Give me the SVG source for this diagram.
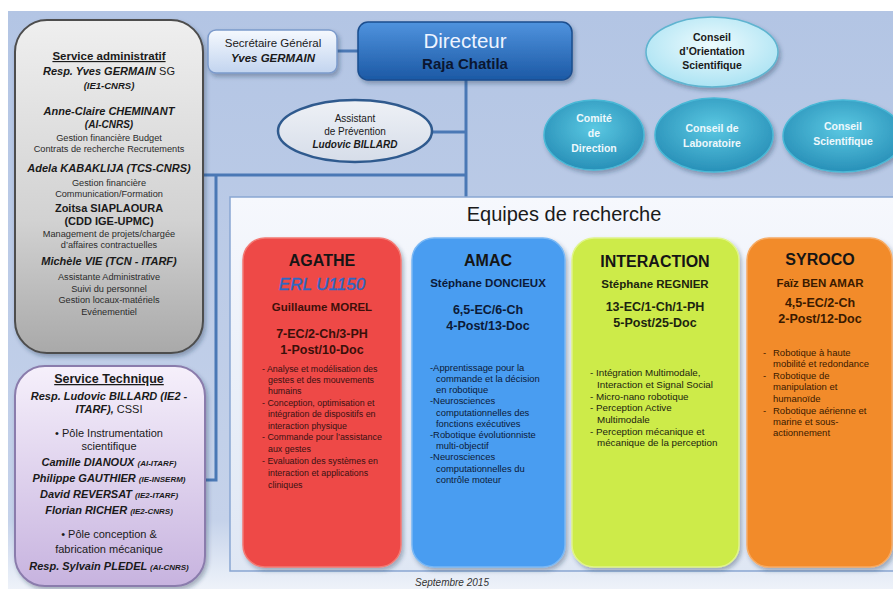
<svg xmlns="http://www.w3.org/2000/svg" width="893" height="589" viewBox="0 0 893 589">
<defs>
<linearGradient id="gBg" x1="0" y1="0" x2="0" y2="1">
<stop offset="0" stop-color="#b3c5e4"/><stop offset="0.88" stop-color="#c5d2ea"/><stop offset="0.97" stop-color="#e4ebf6"/><stop offset="1" stop-color="#eef2f9"/>
</linearGradient>
<linearGradient id="gAdmin" x1="0" y1="0" x2="0" y2="1"><stop offset="0" stop-color="#efefef"/><stop offset="0.6" stop-color="#d2d2d2"/><stop offset="1" stop-color="#a9a9a9"/></linearGradient>
<linearGradient id="gTech" x1="0" y1="0" x2="0" y2="1"><stop offset="0" stop-color="#f6f0fb"/><stop offset="1" stop-color="#c7b3df"/></linearGradient>
<linearGradient id="gSec" x1="0" y1="0" x2="0" y2="1"><stop offset="0" stop-color="#f5f9fe"/><stop offset="1" stop-color="#c2d4ef"/></linearGradient>
<linearGradient id="gDir" x1="0" y1="0" x2="0" y2="1"><stop offset="0" stop-color="#4f93de"/><stop offset="1" stop-color="#1c59a5"/></linearGradient>
<radialGradient id="gCos" cx="0.5" cy="0.4" r="0.6"><stop offset="0" stop-color="#eefbfe"/><stop offset="1" stop-color="#ace3f3"/></radialGradient>
<radialGradient id="gTeal" cx="0.5" cy="0.4" r="0.6"><stop offset="0" stop-color="#5bc8e2"/><stop offset="1" stop-color="#2890b8"/></radialGradient>
<linearGradient id="gEq" x1="0" y1="0" x2="0" y2="1"><stop offset="0" stop-color="#f6f8fd"/><stop offset="1" stop-color="#dfe7f4"/></linearGradient>
<linearGradient id="gAst" x1="0" y1="0" x2="0" y2="1"><stop offset="0" stop-color="#eef1f6"/><stop offset="1" stop-color="#d6dde9"/></linearGradient>
<filter id="sh" x="-10%" y="-10%" width="130%" height="130%"><feDropShadow dx="2" dy="3" stdDeviation="2" flood-color="#203050" flood-opacity="0.35"/></filter>
<style>
text{font-family:"Liberation Sans",Arial,sans-serif;text-anchor:middle}
.conn{fill:none;stroke:#4a78b5;stroke-width:3}
.b{font-weight:bold}
.bi{font-weight:bold;font-style:italic}
.sm{font-size:9.2px;fill:#2b2b2b}
.nm{font-size:11px;fill:#1a1a1a}
.tt{font-size:16px;font-weight:bold;fill:#151515}
.sub{font-size:11.5px;font-weight:bold}
.num{font-size:12.5px;font-weight:bold}
.bl{text-anchor:start}
.teal{font-size:10.5px;font-weight:bold;fill:#eef8fc}
</style>
</defs>
<rect x="0" y="0" width="893" height="589" fill="#ffffff"/>
<rect x="8" y="11" width="885" height="578" fill="url(#gBg)"/>

<g id="connectors">
<path class="conn" d="M337,51 H358"/>
<path class="conn" d="M466,80 V197"/>
<path class="conn" d="M432,132 H466"/>
<path class="conn" d="M203,175 H466"/>
<path class="conn" d="M216,175 V480 H205"/>
</g>

<g id="service-administratif">
<rect x="15" y="20" width="188" height="333" rx="32" fill="url(#gAdmin)" stroke="#4d4d4d" stroke-width="2" filter="url(#sh)"/>
<text x="109" y="60" class="b" font-size="11.5" fill="#1a1a1a" text-decoration="underline">Service administratif</text>
<text x="109" y="75" class="nm"><tspan class="bi">Resp. Yves GERMAIN</tspan> SG</text>
<text x="109" y="89" class="bi" font-size="9.5" fill="#1a1a1a">(IE1-CNRS)</text>
<text x="109" y="115" class="bi nm" font-size="10.8">Anne-Claire CHEMINANT</text>
<text x="109" y="128" class="bi" font-size="10" fill="#1a1a1a">(AI-CNRS)</text>
<text x="109" y="141" class="sm">Gestion financière Budget</text>
<text x="109" y="152" class="sm">Contrats de recherche Recrutements</text>
<text x="109" y="172" class="bi nm" font-size="10.3">Adela KABAKLIJA (TCS-CNRS)</text>
<text x="109" y="186" class="sm">Gestion financière</text>
<text x="109" y="197" class="sm">Communication/Formation</text>
<text x="109" y="212" class="b nm">Zoitsa SIAPLAOURA</text>
<text x="109" y="225" class="b nm">(CDD IGE-UPMC)</text>
<text x="109" y="237" class="sm">Management de projets/chargée</text>
<text x="109" y="248" class="sm">d’affaires contractuelles</text>
<text x="109" y="265" class="bi nm">Michèle VIE (TCN - ITARF)</text>
<text x="109" y="280" class="sm">Assistante Administrative</text>
<text x="109" y="292" class="sm">Suivi du personnel</text>
<text x="109" y="303" class="sm">Gestion locaux-matériels</text>
<text x="109" y="315" class="sm">Evénementiel</text>
</g>

<g id="service-technique">
<rect x="15" y="366" width="190" height="220" rx="30" fill="url(#gTech)" stroke="#8a7cac" stroke-width="2" filter="url(#sh)"/>
<text x="109" y="383" class="b" font-size="12.5" fill="#1a1a1a" text-decoration="underline">Service Technique</text>
<text x="109" y="400" class="bi nm" font-size="11">Resp. Ludovic BILLARD (IE2 -</text>
<text x="109" y="413" class="nm" font-size="10.5"><tspan class="bi">ITARF),</tspan> CSSI</text>
<text x="109" y="437" class="nm" font-size="11">• Pôle Instrumentation</text>
<text x="109" y="450" class="nm" font-size="11">scientifique</text>
<text x="109" y="466" class="bi nm" font-size="10.5">Camille DIANOUX <tspan font-size="8">(AI-ITARF)</tspan></text>
<text x="109" y="482" class="bi nm" font-size="10.5">Philippe GAUTHIER <tspan font-size="8">(IE-INSERM)</tspan></text>
<text x="109" y="498" class="bi nm" font-size="10.5">David REVERSAT <tspan font-size="8">(IE2-ITARF)</tspan></text>
<text x="109" y="514" class="bi nm" font-size="10.5">Florian RICHER <tspan font-size="8">(IE2-CNRS)</tspan></text>
<text x="109" y="538" class="nm" font-size="11">• Pôle conception &amp;</text>
<text x="109" y="553" class="nm" font-size="11">fabrication mécanique</text>
<text x="109" y="570" class="bi nm" font-size="10.2">Resp. Sylvain PLEDEL <tspan font-size="8">(AI-CNRS)</tspan></text>
</g>

<g id="secretaire-general">
<rect x="208" y="30" width="129" height="43" rx="8" fill="url(#gSec)" stroke="#7b9acb" stroke-width="1.5" filter="url(#sh)"/>
<text x="273" y="47" font-size="11.5" fill="#1a1a1a">Secrétaire Général</text>
<text x="273" y="62" class="bi" font-size="11.5" fill="#1a1a1a">Yves GERMAIN</text>
</g>

<g id="directeur">
<rect x="358" y="22" width="214" height="58" rx="10" fill="url(#gDir)" stroke="#1a4e8e" stroke-width="1.5" filter="url(#sh)"/>
<text x="465" y="48" font-size="20.5" fill="#eef4ff">Directeur</text>
<text x="465" y="69" class="b" font-size="15" fill="#0b1630">Raja Chatila</text>
</g>

<g id="assistant-prevention">
<ellipse cx="355" cy="131" rx="77" ry="31" fill="url(#gAst)" stroke="#2f5a8e" stroke-width="2.5"/>
<text x="355" y="122" font-size="10" fill="#1a1a1a">Assistant</text>
<text x="355" y="135" font-size="10" fill="#1a1a1a">de Prévention</text>
<text x="355" y="148" class="bi" font-size="10" fill="#1a1a1a">Ludovic BILLARD</text>
</g>

<g id="conseil-orientation">
<ellipse cx="712" cy="52" rx="66" ry="35" fill="url(#gCos)" stroke="#5fb4d0" stroke-width="1.5" filter="url(#sh)"/>
<text x="712" y="41" class="b" font-size="10.5" fill="#1a1a1a">Conseil</text>
<text x="712" y="55" class="b" font-size="10.5" fill="#1a1a1a">d’Orientation</text>
<text x="712" y="69" class="b" font-size="10.5" fill="#1a1a1a">Scientifique</text>
</g>

<g id="comite-direction">
<ellipse cx="594" cy="135" rx="50" ry="35" fill="url(#gTeal)" stroke="#49b8d6" stroke-width="1.5" filter="url(#sh)"/>
<text x="594" y="122" class="teal">Comité</text>
<text x="594" y="137" class="teal">de</text>
<text x="594" y="152" class="teal">Direction</text>
</g>

<g id="conseil-laboratoire">
<ellipse cx="714" cy="135" rx="59" ry="37" fill="url(#gTeal)" stroke="#49b8d6" stroke-width="1.5" filter="url(#sh)"/>
<text x="712" y="132" class="teal">Conseil de</text>
<text x="712" y="147" class="teal">Laboratoire</text>
</g>

<g id="conseil-scientifique">
<ellipse cx="843" cy="136" rx="60" ry="36" fill="url(#gTeal)" stroke="#49b8d6" stroke-width="1.5" filter="url(#sh)"/>
<text x="843" y="130" class="teal">Conseil</text>
<text x="843" y="145" class="teal">Scientifique</text>
</g>

<g id="equipes-de-recherche">
<rect x="230" y="197" width="680" height="374" fill="url(#gEq)" stroke="#89a6d2" stroke-width="1.5"/>
<text x="564" y="221" font-size="20" fill="#1a1a1a">Equipes de recherche</text>
</g>

<g id="agathe">
<rect x="243" y="238" width="158" height="329" rx="22" fill="#ee4a46" stroke="#f37a74" stroke-width="1.5" filter="url(#sh)"/>
<text x="322" y="266" class="tt">AGATHE</text>
<text x="322" y="290" font-size="17" font-style="italic" fill="#2c68c4" stroke="#2c68c4" stroke-width="0.4">ERL U1150</text>
<text x="322" y="311" class="sub" font-size="12" fill="#3e100a">Guillaume MOREL</text>
<text x="322" y="338" class="num" fill="#3a100a">7-EC/2-Ch/3-PH</text>
<text x="322" y="354" class="num" fill="#3a100a">1-Post/10-Doc</text>
<g font-size="8.9" fill="#3a1212">
<text class="bl" x="262" y="372">-  Analyse et modélisation des</text>
<text class="bl" x="268" y="383">gestes et des mouvements</text>
<text class="bl" x="268" y="394">humains</text>
<text class="bl" x="262" y="406">-  Conception, optimisation et</text>
<text class="bl" x="268" y="417">intégration de dispositifs en</text>
<text class="bl" x="268" y="429">interaction physique</text>
<text class="bl" x="262" y="440">-  Commande pour l’assistance</text>
<text class="bl" x="268" y="452">aux gestes</text>
<text class="bl" x="262" y="464">-  Evaluation des systèmes en</text>
<text class="bl" x="268" y="476">interaction et applications</text>
<text class="bl" x="268" y="488">cliniques</text>
</g>
</g>

<g id="amac">
<rect x="412" y="238" width="153" height="329" rx="22" fill="#4a9df1" stroke="#7ab8f5" stroke-width="1.5" filter="url(#sh)"/>
<text x="488" y="266" class="tt">AMAC</text>
<text x="488" y="287" class="sub" fill="#0c1a38">Stéphane DONCIEUX</text>
<text x="488" y="314" class="num" fill="#0c1a38">6,5-EC/6-Ch</text>
<text x="488" y="330" class="num" fill="#0c1a38">4-Post/13-Doc</text>
<g font-size="9.4" fill="#0c1a38">
<text class="bl" x="430" y="371">-Apprentissage pour la</text>
<text class="bl" x="436" y="382">commande et la décision</text>
<text class="bl" x="436" y="393">en robotique</text>
<text class="bl" x="430" y="404">-Neurosciences</text>
<text class="bl" x="436" y="416">computationnelles des</text>
<text class="bl" x="436" y="427">fonctions exécutives</text>
<text class="bl" x="430" y="438">-Robotique évolutionniste</text>
<text class="bl" x="436" y="449">multi-objectif</text>
<text class="bl" x="430" y="460">-Neurosciences</text>
<text class="bl" x="436" y="472">computationnelles du</text>
<text class="bl" x="436" y="483">contrôle moteur</text>
</g>
</g>

<g id="interaction">
<rect x="572" y="238" width="167" height="329" rx="22" fill="#cdeb49" stroke="#e0f48a" stroke-width="1.5" filter="url(#sh)"/>
<text x="655" y="267" class="tt">INTERACTION</text>
<text x="655" y="288" class="sub" fill="#1c2410">Stéphane REGNIER</text>
<text x="655" y="311" class="num" fill="#1c2410">13-EC/1-Ch/1-PH</text>
<text x="655" y="327" class="num" fill="#1c2410">5-Post/25-Doc</text>
<g font-size="9.8" fill="#1c2410">
<text class="bl" x="590" y="376">-  Intégration Multimodale,</text>
<text class="bl" x="597" y="388">Interaction et Signal Social</text>
<text class="bl" x="590" y="400">-  Micro-nano robotique</text>
<text class="bl" x="590" y="411">-  Perception Active</text>
<text class="bl" x="597" y="423">Multimodale</text>
<text class="bl" x="590" y="435">-  Perception mécanique et</text>
<text class="bl" x="597" y="446">mécanique de la perception</text>
</g>
</g>

<g id="syroco">
<rect x="747" y="238" width="145" height="329" rx="22" fill="#f28b2c" stroke="#f6ab64" stroke-width="1.5" filter="url(#sh)"/>
<text x="820" y="265" class="tt">SYROCO</text>
<text x="820" y="287" class="sub" fill="#3a1a00">Faïz BEN AMAR</text>
<text x="820" y="307" class="num" fill="#3a1a00">4,5-EC/2-Ch</text>
<text x="820" y="323" class="num" fill="#3a1a00">2-Post/12-Doc</text>
<g font-size="9.5" fill="#3a1a00">
<text class="bl" x="763" y="356">-</text><text class="bl" x="773" y="356">Robotique à haute</text>
<text class="bl" x="773" y="367">mobilité et redondance</text>
<text class="bl" x="763" y="379">-</text><text class="bl" x="773" y="379">Robotique de</text>
<text class="bl" x="773" y="390">manipulation et</text>
<text class="bl" x="773" y="402">humanoïde</text>
<text class="bl" x="763" y="414">-</text><text class="bl" x="773" y="414">Robotique aérienne et</text>
<text class="bl" x="773" y="425">marine et sous-</text>
<text class="bl" x="773" y="436">actionnement</text>
</g>
</g>

<text x="452" y="586" font-size="10" font-style="italic" fill="#333">Septembre  2015</text>
</svg>
